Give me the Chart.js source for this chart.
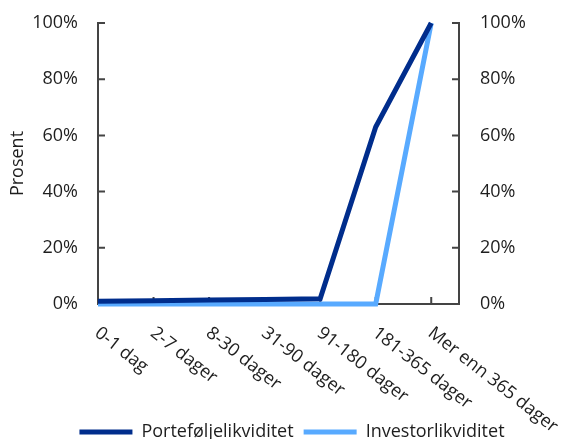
<!DOCTYPE html>
<html>
<head>
<meta charset="utf-8">
<script src="https://cdn.jsdelivr.net/npm/chart.js@4/dist/chart.umd.min.js"></script>
<style>
  html, body { margin: 0; padding: 0; background: #ffffff; }
  #wrap { width: 566px; height: 439px; position: relative; }
</style>
</head>
<body>
<div id="wrap"><canvas id="c" width="566" height="439"></canvas></div>
<script>
// Maturity buckets along the x axis
const categories = ['0-1 dag', '2-7 dager', '8-30 dager', '31-90 dager', '91-180 dager', '181-365 dager', 'Mer enn 365 dager'];
// Cumulative share (%) that can be liquidated within each bucket
const portefolje = [1.0, 1.2, 1.4, 1.6, 1.9, 63, 100];
const investor = [0, 0, 0, 0, 0, 0, 100];
const seriesNames = ['Porteføljelikviditet', 'Investorlikviditet'];
const seriesColors = ['#002D8C', '#58AAFF'];
// Y axis tick values and labels
const yTickValues = [0, 20, 40, 60, 80, 100];
const yTickLabels = ['0%', '20%', '40%', '60%', '80%', '100%'];

const FONT = "'Open Sans', 'Noto Sans', sans-serif";
const TEXT = '#1e1e1e';
const AXIS = '#444444';

const toPoints = arr => arr.map((v, i) => ({ x: i, y: v }));
const yLabel = v => { const i = yTickValues.indexOf(v); return i >= 0 ? yTickLabels[i] : null; };

// Short tick marks pointing into the plot area
const innerTicks = {
  id: 'innerTicks',
  beforeDatasetsDraw(chart) {
    const { ctx, scales: { x, y } } = chart;
    const a = chart.chartArea;
    ctx.save();
    ctx.strokeStyle = AXIS;
    ctx.lineWidth = 2;
    ctx.beginPath();
    yTickValues.forEach(v => {
      const py = y.getPixelForValue(v);
      ctx.moveTo(a.left, py); ctx.lineTo(a.left + 7, py);
      ctx.moveTo(a.right, py); ctx.lineTo(a.right - 7, py);
    });
    categories.forEach((c, i) => {
      const px = x.getPixelForValue(i);
      ctx.moveTo(px, a.bottom); ctx.lineTo(px, a.bottom - 7);
    });
    ctx.stroke();
    ctx.restore();
  }
};

// Category labels slanted downward to the right, starting at each tick
const slantedLabels = {
  id: 'slantedLabels',
  afterDraw(chart) {
    const { ctx, scales: { x } } = chart;
    const a = chart.chartArea;
    ctx.save();
    ctx.fillStyle = TEXT;
    ctx.font = `18px ${FONT}`;
    ctx.textAlign = 'left';
    ctx.textBaseline = 'middle';
    categories.forEach((c, i) => {
      const px = x.getPixelForValue(i);
      ctx.save();
      ctx.translate(px - 1, a.bottom + 27);
      ctx.rotate(38 * Math.PI / 180);
      ctx.fillText(c, 0, 0);
      ctx.restore();
    });
    ctx.restore();
  }
};

// Nudge the legend block slightly right and down
const legendShift = {
  id: 'legendShift',
  afterLayout(chart) {
    const lg = chart.legend;
    if (!lg) return;
    lg.left += 9; lg.right += 9;
    lg.top += 2; lg.bottom += 2;
  }
};

// Value axes keep their wide label gap without reserving extra space above/below
const noEdgePadding = s => { s.paddingTop = 0; s.paddingBottom = 0; };

new Chart(document.getElementById('c'), {
  type: 'line',
  data: {
    datasets: [
      {
        label: seriesNames[0],
        data: toPoints(portefolje),
        borderColor: seriesColors[0],
        backgroundColor: seriesColors[0],
        borderWidth: 5,
        pointRadius: 0,
        tension: 0,
        clip: false
      },
      {
        label: seriesNames[1],
        data: toPoints(investor),
        borderColor: seriesColors[1],
        backgroundColor: seriesColors[1],
        borderWidth: 5,
        pointRadius: 0,
        tension: 0,
        clip: false
      }
    ]
  },
  options: {
    responsive: false,
    animation: false,
    events: [],
    layout: { padding: { top: 23, left: 0, right: 0, bottom: -10 } },
    scales: {
      x: {
        type: 'linear',
        min: 0,
        max: 6.5,
        grid: { display: false, drawTicks: false },
        border: { display: true, color: AXIS, width: 2 },
        ticks: { display: false, stepSize: 1 },
        afterFit(s) { s.height = 107; }
      },
      y: {
        position: 'left',
        min: 0,
        max: 100,
        grid: { display: false, drawTicks: false },
        border: { display: true, color: AXIS, width: 2 },
        ticks: {
          stepSize: 20,
          padding: 20,
          color: TEXT,
          font: { family: FONT, size: 18 },
          callback: v => yLabel(v)
        },
        title: {
          display: true,
          text: 'Prosent',
          color: TEXT,
          font: { family: FONT, size: 18 },
          padding: { top: 7, bottom: 0 }
        },
        afterFit(s) { s.width = 98; noEdgePadding(s); }
      },
      y2: {
        position: 'right',
        min: 0,
        max: 100,
        grid: { display: false, drawTicks: false },
        border: { display: true, color: AXIS, width: 2 },
        ticks: {
          stepSize: 20,
          padding: 21,
          color: TEXT,
          font: { family: FONT, size: 18 },
          callback: v => yLabel(v)
        },
        afterFit(s) { s.width = 107; noEdgePadding(s); }
      }
    },
    plugins: {
      tooltip: { enabled: false },
      legend: {
        position: 'bottom',
        labels: {
          color: TEXT,
          font: { family: FONT, size: 18 },
          boxWidth: 53,
          boxHeight: 5,
          padding: 10,
          generateLabels: chart => chart.data.datasets.map((d, i) => ({
            text: d.label,
            fillStyle: d.borderColor,
            strokeStyle: d.borderColor,
            lineWidth: 0,
            fontColor: TEXT,
            datasetIndex: i
          }))
        }
      }
    }
  },
  plugins: [innerTicks, slantedLabels, legendShift]
});
</script>
</body>
</html>
